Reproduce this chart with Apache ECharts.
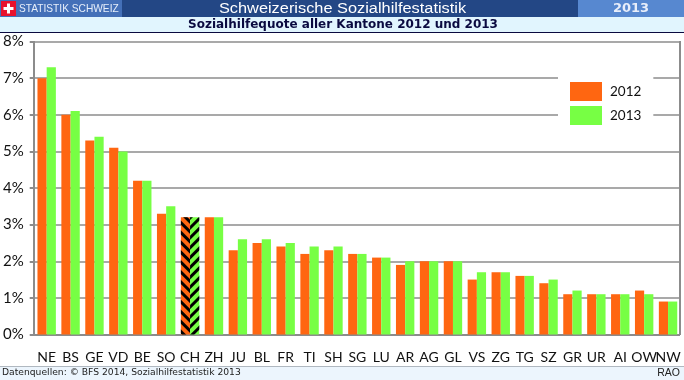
<!DOCTYPE html>
<html><head><meta charset="utf-8">
<style>html,body{margin:0;padding:0;background:#fff}#c{width:684px;height:380px}</style>
<script src="https://cdn.jsdelivr.net/npm/echarts@6/dist/echarts.min.js"></script>
</head><body><div id="c"></div>
<script>
const categories=["NE","BS","GE","VD","BE","SO","CH","ZH","JU","BL","FR","TI","SH","SG","LU","AR","AG","GL","VS","ZG","TG","SZ","GR","UR","AI","OW","NW"];
const values2012=[7.0,6.0,5.3,5.1,4.2,3.3,3.2,3.2,2.3,2.5,2.4,2.2,2.3,2.2,2.1,1.9,2.0,2.0,1.5,1.7,1.6,1.4,1.1,1.1,1.1,1.2,0.9];
const values2013=[7.3,6.1,5.4,5.0,4.2,3.5,3.2,3.2,2.6,2.6,2.5,2.4,2.4,2.2,2.1,2.0,2.0,2.0,1.7,1.7,1.6,1.5,1.2,1.1,1.1,1.1,0.9];
const highlight="CH";
const hatch={symbol:'rect',symbolSize:1,color:'#000',dashArrayX:[1,0],dashArrayY:[3,4],rotation:Math.PI/4};
const hatch2={symbol:'rect',symbolSize:1,color:'#000',dashArrayX:[1,0],dashArrayY:[3,4],rotation:-Math.PI/4};
const mk=(vals,col,d)=>vals.map((v,i)=>categories[i]===highlight?{value:v,itemStyle:{color:col,decal:d}}:v);
const chart=echarts.init(document.getElementById('c'),null,{renderer:'canvas'});
const rect=(x,y,w,h,fill)=>({type:'rect',silent:true,shape:{x,y,width:w,height:h},style:{fill}});
const txt=(x,y,t,font,fill,align,sx)=>({type:'text',silent:true,x,y,scaleX:sx||1,style:{text:t,font,fill,align:align||'left',verticalAlign:'middle'}});
chart.setOption({
 animation:false,backgroundColor:'#fff',
 grid:{left:34,right:4,top:41.5,bottom:45.5,containLabel:false,show:false},
 xAxis:{type:'category',data:categories,axisTick:{show:false},
  axisLine:{show:false},
  axisLabel:{interval:0,margin:16,fontFamily:'Lato',fontSize:14,color:'#111',hideOverlap:false}},
 yAxis:{type:'value',min:0,max:8,interval:1,
  axisLine:{show:false},
  axisTick:{show:true,length:5,lineStyle:{color:'#8c8c8c',width:2}},
  splitLine:{show:true,lineStyle:{color:'#8c8c8c',width:1.5}},
  axisLabel:{formatter:'{value}%',margin:11,fontFamily:'Lato',fontSize:15,color:'#111'}},
 legend:{show:true,left:558,top:72,orient:'vertical',icon:'rect',itemWidth:32,itemHeight:19,itemGap:5,padding:[10,12],
  backgroundColor:'#fff',data:['2012','2013'],
  textStyle:{fontFamily:'Lato',fontSize:13.5,color:'#111',padding:[0,0,0,3]}},
 series:[
  {name:'2012',type:'bar',data:mk(values2012,'#ff6611',hatch),barWidth:9.2,barGap:'0%',itemStyle:{color:'#ff6611'}},
  {name:'2013',type:'bar',data:mk(values2013,'#77ff44',hatch2),barWidth:9.2,itemStyle:{color:'#77ff44'}}
 ],
 graphic:[
  rect(0,0,684,17,'#234785'),
  rect(0,0,122,17,'#4470b8'),
  rect(578,0,106,17,'#5788d0'),
  rect(0,17,684,15,'#e1f5fe'),
  rect(0,32,684,1,'#0a0a40'),
  rect(1,1,15,15,'#e8112d'),
  rect(7,3.5,3,10,'#fff'),
  rect(3.5,7,10,3,'#fff'),
  txt(19,9,'STATISTIK SCHWEIZ','11.5px "Liberation Sans"','#e6eefa','left',0.885),
  txt(342.5,9,'Schweizerische Sozialhilfestatistik','15.5px "Liberation Sans"','#fff','center',1.055),
  txt(343,25,'Sozialhilfequote aller Kantone 2012 und 2013','bold 12px "DejaVu Sans"','#0a0a40','center'),
  txt(631,9,'2013','bold 13px "DejaVu Sans"','#e8eefa','center'),
  rect(33,41,2,294,'#8c8c8c'),
  rect(33,334,647,2,'#8c8c8c'),
  rect(679,41,2,294,'#8c8c8c'),
  rect(0,366,684,14,'#ecf5fd'),
  rect(0,366,684,1,'#b0b8c0'),
  txt(2,373,'Datenquellen: © BFS 2014, Sozialhilfestatistik 2013','9.2px "DejaVu Sans"','#222'),
  txt(680,373,'RAO','10.5px "Liberation Sans"','#222','right')
 ]
});
</script></body></html>
